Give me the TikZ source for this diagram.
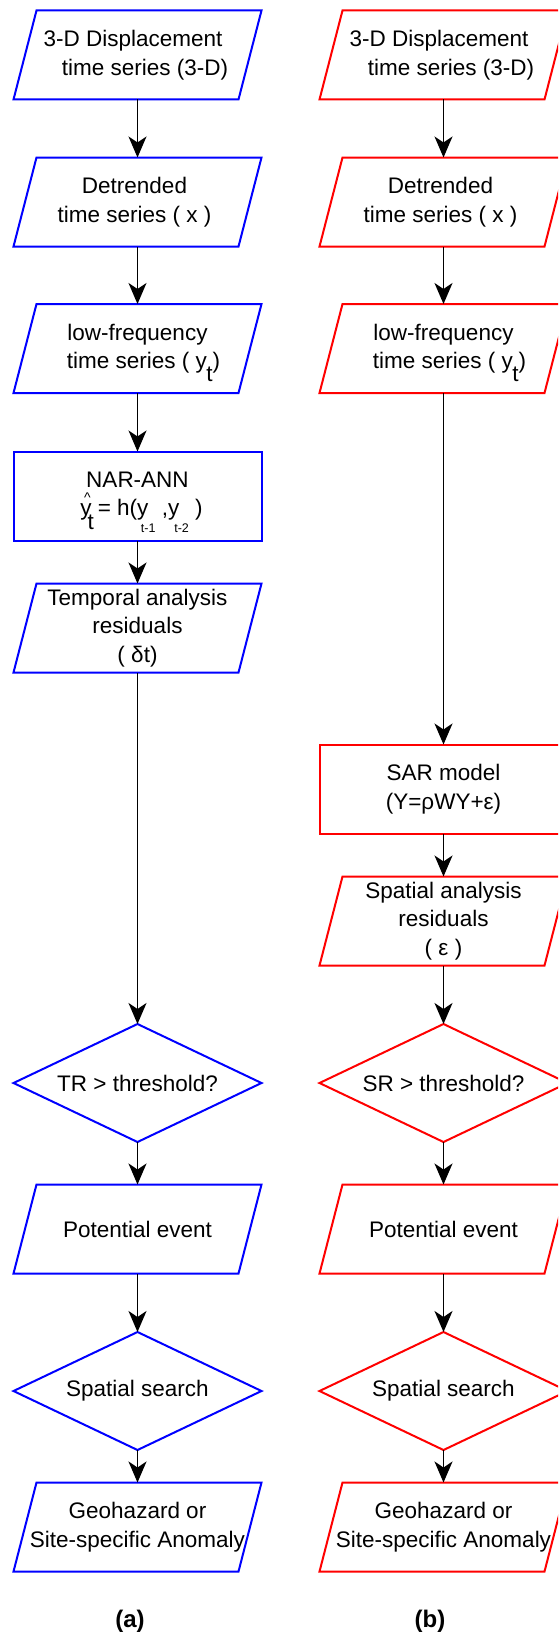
\documentclass[tikz,border=0pt]{standalone}
\usepackage{fontspec}
\setmainfont{Liberation Sans}
\usetikzlibrary{arrows.meta}
\newcommand\mysubt{\kern-0.5pt\raisebox{-13pt}[0pt][0pt]{t}}
\begin{document}
\begin{tikzpicture}[x=1pt,y=-1pt,
  box/.style={inner sep=0pt, outer sep=0pt, minimum width=248pt, minimum height=89pt,
    align=center, font=\fontsize{22.5}{28.5}\selectfont, text=black},
  dia/.style={box, minimum height=118pt},
  arr/.style={-{Stealth[length=21pt,width=18pt,inset=6pt]}, line width=1.5pt, black},
  lineb/.style={line width=2pt, blue, line join=miter},
  liner/.style={line width=2pt, red, line join=miter},
  lab/.style={font=\fontsize{24}{28}\selectfont\bfseries, text=black}]
\useasboundingbox (0,0) rectangle (558,1635);
\clip (0,0) rectangle (558,1635);
\fill[white] (0,0) rectangle (558,1635);

% left column (a)
\node[box] (a1) at (137.5,55) {3-D Displacement\hspace*{9pt}\\\hspace*{15pt}time series (3-D)};
\node[box] (a2) at (137.5,202) {Detrended\hspace*{6pt}\\time series ( x )\hspace*{6pt}};
\node[box] (a3) at (137.5,348.5) {low-frequency\\\hspace*{12pt}time series ( y\mysubt)};
\node[box] (a4) at (137.5,496) {NAR-ANN\\\hspace*{8pt}\rlap{\kern3.7pt\raisebox{13.4pt}[0pt][0pt]{\fontsize{14}{14}\selectfont\textasciicircum}}y\kern-4pt\raisebox{-13.7pt}[0pt][0pt]{t}\kern4pt= h(y\kern-7.5pt\raisebox{-17pt}[0pt][0pt]{\fontsize{12.5}{12.5}\selectfont t-1} ,y\kern-5pt\raisebox{-17pt}[0pt][0pt]{\fontsize{12.5}{12.5}\selectfont t-2} )};
\node[box] (a5) at (137.5,628) {Temporal analysis\\residuals\\( δt)};
\node[dia] (a6) at (137.5,1083) {TR > threshold?};
\node[box] (a7) at (137.5,1229) {Potential event};
\node[dia] (a8) at (137.5,1391) {Spatial search};
\node[box] (a9) at (137.5,1527) {Geohazard or\\Site-specific Anomaly};

% right column (b)
\node[box] (b1) at (443.5,55) {3-D Displacement\hspace*{9pt}\\\hspace*{15pt}time series (3-D)};
\node[box] (b2) at (443.5,202) {Detrended\hspace*{6pt}\\time series ( x )\hspace*{6pt}};
\node[box] (b3) at (443.5,348.5) {low-frequency\\\hspace*{12pt}time series ( y\mysubt)};
\node[box] (b4) at (443.5,789) {SAR model\\(Y=ρWY+ε)};
\node[box] (b5) at (443.5,921) {Spatial analysis\\residuals\\( ε )};
\node[dia] (b6) at (443.5,1083) {SR > threshold?};
\node[box] (b7) at (443.5,1229) {Potential event};
\node[dia] (b8) at (443.5,1391) {Spatial search};
\node[box] (b9) at (443.5,1527) {Geohazard or\\Site-specific Anomaly};

% outlines
\foreach \n in {a1,a2,a3,a5,a7,a9}
  \draw[lineb] (\n.south west) -- ([xshift=-23pt]\n.south east) -- (\n.north east) -- ([xshift=23pt]\n.north west) -- cycle;
\foreach \n in {b1,b2,b3,b5,b7,b9}
  \draw[liner] (\n.south west) -- ([xshift=-23pt]\n.south east) -- (\n.north east) -- ([xshift=23pt]\n.north west) -- cycle;
\draw[lineb] (a4.south west) -- (a4.south east) -- (a4.north east) -- (a4.north west) -- cycle;
\draw[liner] (b4.south west) -- (b4.south east) -- (b4.north east) -- (b4.north west) -- cycle;
\foreach \n in {a6,a8}
  \draw[lineb] (\n.west) -- (\n.north) -- (\n.east) -- (\n.south) -- cycle;
\foreach \n in {b6,b8}
  \draw[liner] (\n.west) -- (\n.north) -- (\n.east) -- (\n.south) -- cycle;

% connectors
\draw[arr] (a1) -- (a2);
\draw[arr] (a2) -- (a3);
\draw[arr] (a3) -- (a4);
\draw[arr] (a4) -- (a5);
\draw[arr] (a5) -- (a6);
\draw[arr] (a6) -- (a7);
\draw[arr] (a7) -- (a8);
\draw[arr] (a8) -- (a9);
\draw[arr] (b1) -- (b2);
\draw[arr] (b2) -- (b3);
\draw[arr] (b3) -- (b4);
\draw[arr] (b4) -- (b5);
\draw[arr] (b5) -- (b6);
\draw[arr] (b6) -- (b7);
\draw[arr] (b7) -- (b8);
\draw[arr] (b8) -- (b9);

% captions
\node[lab] (capa) at (130,1621) {(a)};
\node[lab] (capb) at (430,1621) {(b)};
\end{tikzpicture}
\end{document}
